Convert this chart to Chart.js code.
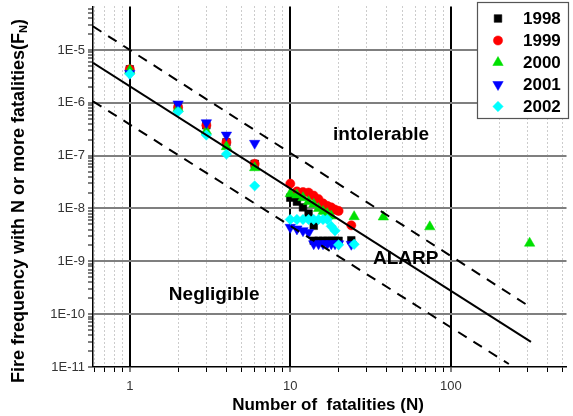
<!DOCTYPE html>
<html><head><meta charset="utf-8">
<script src="https://cdn.jsdelivr.net/npm/chart.js@4.4.1/dist/chart.umd.min.js"></script>
<style>html,body{margin:0;padding:0;background:#fff;overflow:hidden}#wrap{width:573px;height:416px;position:relative}</style>
</head><body><div id="wrap"><canvas id="c" width="573" height="416"></canvas></div>
<script>
// ---- data ----
const years = ['1998', '1999', '2000', '2001', '2002'];
const n1998 = [1, 2, 3, 4, 6, 10, 11, 12, 13, 14, 14, 15, 16, 17, 18, 19, 20, 24];
const f1998 = [4.3e-6, 8.2e-7, 3.75e-7, 1.79e-7, 7.0e-8, 1.6e-8, 1.35e-8, 1.05e-8, 8.0e-9, 4.7e-9, 2.45e-9, 2.45e-9, 2.45e-9, 2.45e-9, 2.45e-9, 2.45e-9, 2.45e-9, 2.5e-9];
const n1999 = [1, 2, 3, 4, 6, 10, 11, 12, 13, 14, 15, 16, 17, 18, 19, 20, 24];
const f1999 = [4.3e-6, 8.2e-7, 3.75e-7, 1.79e-7, 7.0e-8, 2.95e-8, 2.1e-8, 2.05e-8, 2.0e-8, 1.75e-8, 1.5e-8, 1.25e-8, 1.12e-8, 1.05e-8, 9.5e-9, 9.0e-9, 4.8e-9];
const n2000 = [1, 2, 3, 4, 6, 10, 11, 12, 13, 14, 15, 16, 17, 18, 25, 38, 74, 310];
const f2000 = [4.1e-6, 7.8e-7, 2.9e-7, 1.48e-7, 5.9e-8, 1.9e-8, 1.8e-8, 1.6e-8, 1.35e-8, 1.2e-8, 1.0e-8, 8.8e-9, 8.0e-9, 7.2e-9, 7.0e-9, 6.9e-9, 4.5e-9, 2.2e-9];
const n2001 = [1, 2, 3, 4, 6, 10, 11, 12, 13, 14, 15, 16, 17, 18, 19, 20, 24];
const f2001 = [3.6e-6, 9.5e-7, 4.2e-7, 2.45e-7, 1.71e-7, 4.4e-9, 4.1e-9, 3.8e-9, 3.5e-9, 2.15e-9, 2.15e-9, 2.15e-9, 2.15e-9, 2.15e-9, 2.15e-9, 2.15e-9, 2.1e-9];
const n2002 = [1, 2, 3, 4, 6, 10, 11, 12, 13, 14, 15, 16, 17, 18, 19, 20, 25];
const f2002 = [3.5e-6, 6.8e-7, 2.45e-7, 1.07e-7, 2.68e-8, 6.2e-9, 6.2e-9, 6.2e-9, 6.2e-9, 6.2e-9, 6.2e-9, 6.2e-9, 6.2e-9, 4.6e-9, 3.8e-9, 2.05e-9, 2.1e-9];

// criterion lines (end points)
const criterionN = [0.59, 316];
const criterionF = [5.7e-6, 3.0e-11];
const upperN = [0.59, 295];
const upperF = [2.8e-5, 1.53e-10];
const lowerN = [0.59, 230];
const lowerF = [1.07e-6, 1.14e-11];

// ticks
const xTickValues = [0.6, 0.7, 0.8, 0.9, 1, 2, 3, 4, 5, 6, 7, 8, 9, 10, 20, 30, 40, 50, 60, 70, 80, 90, 100, 200, 300, 400, 500];
const xLabelValues = [1, 10, 100];
const xLabelTexts = ['1', '10', '100'];
const yDecades = [-11, -10, -9, -8, -7, -6, -5];
const yLabelTexts = ['1E-11', '1E-10', '1E-9', '1E-8', '1E-7', '1E-6', '1E-5'];
const zoneTexts = ['intolerable', 'ALARP', 'Negligible'];

// ---- helpers ----
const FONT = '"Liberation Sans", Arial, Helvetica, sans-serif';
const isDecade = v => Math.abs(Math.log10(v) - Math.round(Math.log10(v))) < 1e-9;
const pts = (ns, fs) => ns.map((n, i) => ({ x: n, y: fs[i] }));
const Y_MIN = 1e-11, Y_MAX = 6.64e-5, X_MIN = 0.59, X_MAX = 526;
const yTickValues = [];
yDecades.forEach(d => { for (let k = 1; k <= 9; k++) { const v = k * Math.pow(10, d); if (v <= Y_MAX) yTickValues.push(v); } });

const styles = [
  { c: '#000000', ps: 'rect', r: 5.4, rot: 0 },
  { c: '#ff0000', ps: 'circle', r: 4.6, rot: 0 },
  { c: '#00e000', ps: 'triangle', r: 6, rot: 0 },
  { c: '#0000ff', ps: 'triangle', r: 6, rot: 180 },
  { c: '#00ffff', ps: 'rectRot', r: 5.2, rot: 0 }
];
const series = [pts(n1998, f1998), pts(n1999, f1999), pts(n2000, f2000), pts(n2001, f2001), pts(n2002, f2002)];
const datasets = series.map((d, i) => ({
  label: years[i], data: d, showLine: false,
  pointStyle: styles[i].ps, pointRadius: styles[i].r, pointRotation: styles[i].rot,
  backgroundColor: styles[i].c, borderColor: styles[i].c, pointBorderWidth: 0.5,
  order: 10 - i
}));
const lineDs = (ns, fs, dash, lbl) => ({
  label: lbl, data: pts(ns, fs), showLine: true, pointRadius: 0, borderColor: '#000',
  borderWidth: 2, borderDash: dash, fill: false, order: -1
});
datasets.push(lineDs(criterionN, criterionF, [], 'criterion'));
datasets.push(lineDs(upperN, upperF, [10, 8], 'upper'));
datasets.push(lineDs(lowerN, lowerF, [10, 8], 'lower'));

const zonePos = [{ n: 36.8, f: 2.45e-7 }, { n: 52.4, f: 1.1e-9 }, { n: 3.36, f: 2.3e-10 }];

function drawMarker(ctx, st, x, y) {
  ctx.fillStyle = st.c; ctx.strokeStyle = st.c; ctx.lineWidth = 0.5;
  if (Chart.helpers && Chart.helpers.drawPoint) {
    Chart.helpers.drawPoint(ctx, { pointStyle: st.ps, radius: st.r, rotation: st.rot, borderWidth: 0.5 }, x, y);
  }
}

const overlay = {
  id: 'overlay',
  afterDatasetsDraw(chart) {
    const ctx = chart.ctx, xs = chart.scales.x, ys = chart.scales.y;
    ctx.save();
    ctx.fillStyle = '#000';
    ctx.font = 'bold 19px ' + FONT;
    ctx.textAlign = 'center'; ctx.textBaseline = 'middle';
    zoneTexts.forEach((t, i) => ctx.fillText(t, xs.getPixelForValue(zonePos[i].n), ys.getPixelForValue(zonePos[i].f)));
    ctx.restore();
  },
  afterDraw(chart) {
    const ctx = chart.ctx;
    ctx.save();
    // legend box
    ctx.fillStyle = '#fff'; ctx.fillRect(477.5, 2.5, 91, 116);
    ctx.strokeStyle = '#555'; ctx.lineWidth = 1.2; ctx.strokeRect(477.5, 2.5, 91, 116);
    const rows = [18.5, 40.5, 62.5, 84.5, 106.5];
    years.forEach((y, i) => {
      drawMarker(ctx, styles[i], 498, rows[i]);
      ctx.fillStyle = '#000'; ctx.font = 'bold 17px ' + FONT;
      ctx.textAlign = 'left'; ctx.textBaseline = 'middle';
      ctx.fillText(y, 523, rows[i] + 1);
    });
    // x title
    ctx.fillStyle = '#000'; ctx.font = 'bold 17px ' + FONT;
    ctx.textAlign = 'center'; ctx.textBaseline = 'middle';
    ctx.fillText('Number of  fatalities (N)', 328, 405);
    // y title with subscript
    ctx.translate(19, 201); ctx.rotate(-Math.PI / 2);
    const main = 'Fire frequency with N or more fatalities(F';
    ctx.font = 'bold 18px ' + FONT; const w1 = ctx.measureText(main).width; const w3 = ctx.measureText(')').width;
    ctx.font = 'bold 11px ' + FONT; const w2 = ctx.measureText('N').width;
    let x0 = -(w1 + w2 + w3) / 2;
    ctx.textAlign = 'left'; ctx.textBaseline = 'middle';
    ctx.font = 'bold 18px ' + FONT; ctx.fillText(main, x0, 0);
    ctx.font = 'bold 11px ' + FONT; ctx.fillText('N', x0 + w1, 5);
    ctx.font = 'bold 18px ' + FONT; ctx.fillText(')', x0 + w1 + w2, 0);
    ctx.restore();
  }
};

const zeroPad = s => { s.paddingLeft = 0; s.paddingRight = 0; s.paddingTop = 0; s.paddingBottom = 0; };

new Chart(document.getElementById('c'), {
  type: 'scatter',
  data: { datasets },
  options: {
    responsive: false, animation: false, devicePixelRatio: 1,
    layout: { padding: 0 },
    plugins: { legend: { display: false }, tooltip: { enabled: false } },
    scales: {
      x: {
        type: 'logarithmic', position: 'bottom', min: X_MIN, max: X_MAX, bounds: 'data',
        afterBuildTicks: s => { s.ticks = xTickValues.map(v => ({ value: v })); },
        afterFit: s => { s.height = 49; zeroPad(s); },
        ticks: {
          autoSkip: false, maxRotation: 0, minRotation: 0, padding: 7, color: '#333',
          font: { family: FONT, size: 13 },
          callback: v => { const i = xLabelValues.findIndex(a => Math.abs(a - v) < 1e-9); return i >= 0 ? xLabelTexts[i] : ''; }
        },
        grid: {
          color: c => (c.tick && isDecade(c.tick.value)) ? '#000' : '#999999',
          lineWidth: c => (c.tick && isDecade(c.tick.value)) ? 2 : 1,
          tickColor: '#000', tickWidth: 1, tickLength: 5, drawTicks: true
        },
        border: { display: true, color: '#000', width: 1.5, dash: c => (c.tick && !isDecade(c.tick.value)) ? [1, 3] : [] }
      },
      y: {
        type: 'logarithmic', position: 'left', min: Y_MIN, max: Y_MAX, bounds: 'data',
        afterBuildTicks: s => { s.ticks = yTickValues.map(v => ({ value: v })); },
        afterFit: s => { s.width = 93; zeroPad(s); },
        ticks: {
          autoSkip: false, padding: 3, color: '#333', font: { family: FONT, size: 13 },
          callback: v => { if (!isDecade(v)) return ''; const i = yDecades.indexOf(Math.round(Math.log10(v))); return i >= 0 ? yLabelTexts[i] : ''; }
        },
        grid: {
          color: c => (c.tick && isDecade(c.tick.value) && c.tick.value > 2e-11) ? '#7f7f7f' : 'rgba(0,0,0,0)',
          lineWidth: c => (c.tick && isDecade(c.tick.value) && c.tick.value > 2e-11) ? 2 : 0,
          tickColor: '#000', tickWidth: 1, tickLength: 5, drawTicks: true
        },
        border: { display: true, color: '#000', width: 1.5 }
      }
    }
  },
  plugins: [overlay]
});
</script></body></html>
